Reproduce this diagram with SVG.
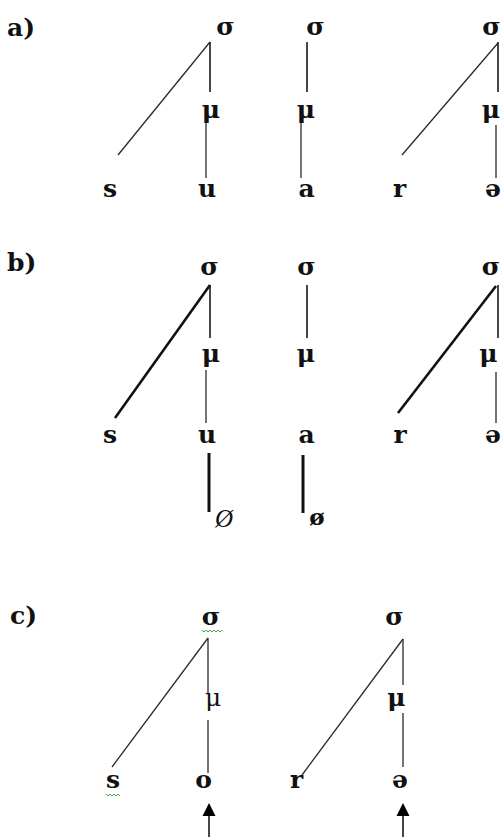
<svg xmlns="http://www.w3.org/2000/svg" width="503" height="837" viewBox="0 0 503 837">
<style>
text{font-family:"DejaVu Serif","Liberation Serif",serif;font-size:25px;font-weight:bold;fill:#111;text-anchor:middle}
text.lbl{text-anchor:start}
text.reg{font-weight:normal}
.t{stroke:#2a2a2a;stroke-width:1.3;fill:none}
.m{stroke:#1a1a1a;stroke-width:1.6;fill:none}
.k{stroke:#111;stroke-width:2.6;fill:none}
.w{stroke:#3aa83a;stroke-width:1;fill:none}
</style>
<g id="labels">
<text class="lbl" x="7" y="36">a)</text>
<text class="lbl" x="7" y="271">b)</text>
<text class="lbl" x="10" y="624">c)</text>
</g>
<g id="a-nodes">
<g id="a-sigma1"><text x="225.5" y="35">σ</text></g>
<g id="a-sigma2"><text x="315.5" y="35">σ</text></g>
<g id="a-sigma3"><text x="491.5" y="35">σ</text></g>
<g id="a-mu1"><text x="211" y="118">μ</text></g>
<g id="a-mu2"><text x="306" y="118">μ</text></g>
<g id="a-mu3"><text x="491" y="118">μ</text></g>
<g id="a-s"><text x="110" y="197">s</text></g>
<g id="a-u"><text x="207" y="197">u</text></g>
<g id="a-a"><text x="306.5" y="197">a</text></g>
<g id="a-r"><text x="399.5" y="197">r</text></g>
<g id="a-schwa"><text x="493" y="197">ə</text></g>
</g>
<g id="b-nodes">
<g id="b-sigma1"><text x="209.5" y="275">σ</text></g>
<g id="b-sigma2"><text x="306.5" y="275">σ</text></g>
<g id="b-sigma3"><text x="491" y="275">σ</text></g>
<g id="b-mu1"><text x="211" y="362">μ</text></g>
<g id="b-mu2"><text x="306" y="362">μ</text></g>
<g id="b-mu3"><text x="488.5" y="362">μ</text></g>
<g id="b-s"><text x="110" y="443">s</text></g>
<g id="b-u"><text x="207" y="443">u</text></g>
<g id="b-a"><text x="306.5" y="443">a</text></g>
<g id="b-r"><text x="400" y="443">r</text></g>
<g id="b-schwa"><text x="493" y="443">ə</text></g>
<g id="b-null1"><text class="reg" x="224" y="527" style="font-size:25px;font-style:italic;font-family:'Liberation Serif',serif">Ø</text></g>
<g id="b-null2"><text x="317" y="525" style="font-size:23px">ø</text></g>
</g>
<g id="c-nodes">
<g id="c-sigma1"><text x="211" y="625">σ</text><path class="w" d="M202,630 l2,2 l2,-2 l2,2 l2,-2 l2,2 l2,-2 l2,2 l2,-2 l2,2 l2,-2"/></g>
<g id="c-sigma2"><text x="394.5" y="625">σ</text></g>
<g id="c-mu1"><text class="reg" x="213" y="706">μ</text></g>
<g id="c-mu2"><text x="396.5" y="706">μ</text></g>
<g id="c-s"><text x="113" y="788">s</text><path class="w" d="M106,794 l2,2 l2,-2 l2,2 l2,-2 l2,2 l2,-2 l2,2"/></g>
<g id="c-o"><text x="203.5" y="788">o</text></g>
<g id="c-r"><text x="296.5" y="788">r</text></g>
<g id="c-schwa"><text x="400" y="788">ə</text></g>
</g>
<g id="connectors">
<line class="t" x1="210" y1="42" x2="118" y2="155"/>
<line class="m" x1="210" y1="42" x2="210" y2="92"/>
<line class="t" x1="206" y1="123" x2="206" y2="178"/>
<line class="m" x1="307" y1="42" x2="307" y2="92"/>
<line class="t" x1="301" y1="123" x2="301" y2="178"/>
<line class="t" x1="498" y1="43" x2="402" y2="155"/>
<line class="m" x1="498" y1="42" x2="498" y2="92"/>
<line class="t" x1="496" y1="125" x2="496" y2="178"/>
<line class="k" x1="210" y1="285" x2="115" y2="418"/>
<line class="m" x1="210" y1="285" x2="210" y2="338"/>
<line class="t" x1="206" y1="370" x2="206" y2="423"/>
<line class="m" x1="307" y1="285" x2="307" y2="338"/>
<line class="k" x1="496" y1="286" x2="398" y2="413"/>
<line class="m" x1="498" y1="285" x2="498" y2="338"/>
<line class="t" x1="496" y1="372" x2="496" y2="423"/>
<line class="k" x1="209" y1="453" x2="209" y2="512" style="stroke-width:3"/>
<line class="k" x1="303" y1="455" x2="303" y2="513" style="stroke-width:3"/>
<line class="t" x1="208" y1="638" x2="112" y2="767"/>
<line class="t" x1="208" y1="638" x2="208" y2="693"/>
<line class="t" x1="208" y1="720" x2="208" y2="773"/>
<line class="t" x1="403" y1="639" x2="302" y2="775"/>
<line class="t" x1="403" y1="639" x2="403" y2="685"/>
<line class="t" x1="403" y1="713" x2="403" y2="767"/>
<line class="m" x1="209" y1="814" x2="209" y2="837"/>
<path d="M209,803 L202.5,816 L215.5,816 Z" fill="#000"/>
<line class="m" x1="403" y1="814" x2="403" y2="837"/>
<path d="M403,803 L396.5,816 L409.5,816 Z" fill="#000"/>
</g>
</svg>
